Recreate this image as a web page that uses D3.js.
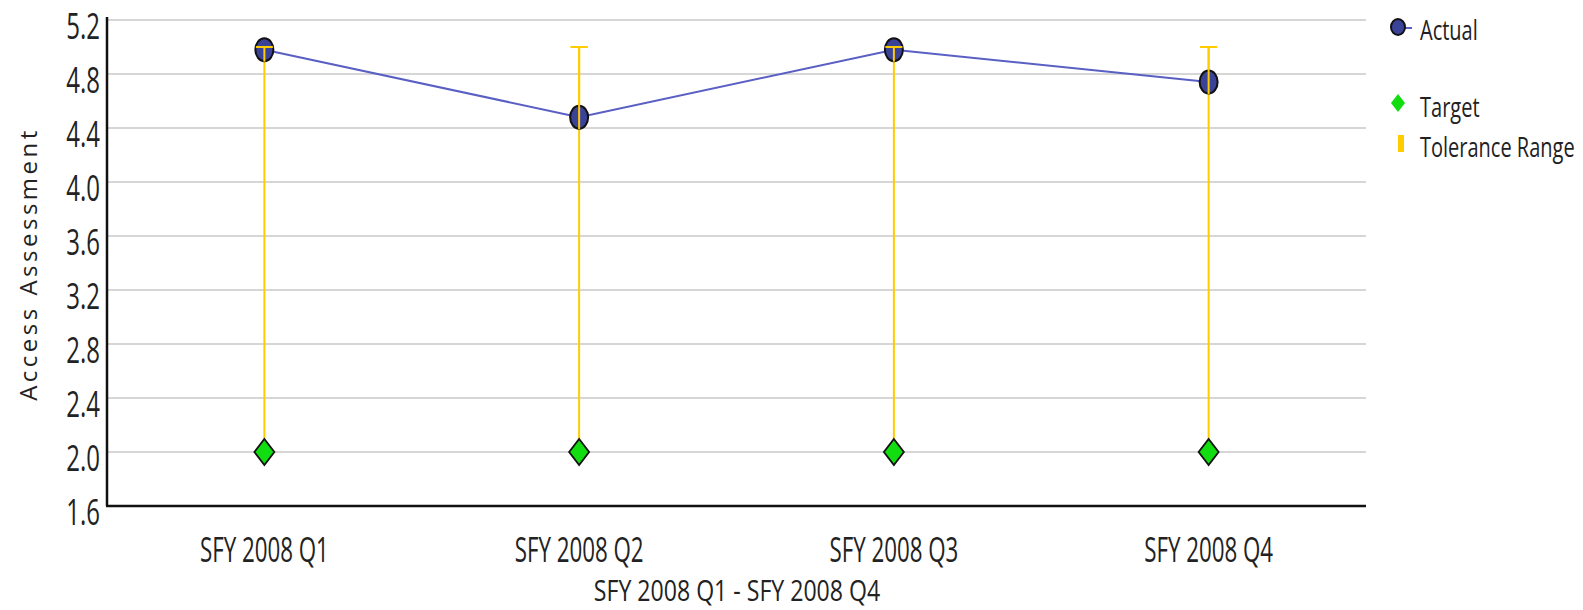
<!DOCTYPE html>
<html>
<head>
<meta charset="utf-8">
<script src="https://cdn.jsdelivr.net/npm/d3@7"></script>
<style>
  html, body { margin: 0; padding: 0; background: #fff; }
  svg { display: block; }
  text { font-family: "Open Sans", "Noto Sans", sans-serif; fill: #222; }
</style>
</head>
<body>
<svg id="chart" width="1583" height="610"></svg>
<script>
// Quarterly access assessment data
const categories = ["SFY 2008 Q1", "SFY 2008 Q2", "SFY 2008 Q3", "SFY 2008 Q4"];
const actual = [4.98, 4.48, 4.98, 4.74];
const target = [2.0, 2.0, 2.0, 2.0];
const toleranceLow = [2.0, 2.0, 2.0, 2.0];
const toleranceHigh = [5.0, 5.0, 5.0, 5.0];
const yTicks = [1.6, 2.0, 2.4, 2.8, 3.2, 3.6, 4.0, 4.4, 4.8, 5.2];
const legendLabels = ["Actual", "Target", "Tolerance Range"];
const xTitle = "SFY 2008 Q1 - SFY 2008 Q4";
const yTitle = "Access Assessment";

const svg = d3.select("#chart");
const plot = { left: 107, right: 1366, top: 20, bottom: 506 };

const x = d3.scaleBand().domain(categories).range([plot.left, plot.right]);
const cx = d => x(d) + x.bandwidth() / 2;
const y = d3.scaleLinear().domain([1.6, 5.2]).range([plot.bottom, plot.top]);

// Horizontal gridlines
svg.append("g").selectAll("line").data(yTicks.filter(t => t > 1.6)).join("line")
  .attr("x1", plot.left).attr("x2", plot.right)
  .attr("y1", d => y(d)).attr("y2", d => y(d))
  .attr("stroke", "#d6d6d6").attr("stroke-width", 2);

// Y axis with tick labels (tall, narrow numerals sitting slightly below each gridline)
const yAxis = svg.append("g").attr("transform", `translate(${plot.left},0)`)
  .call(d3.axisLeft(y).tickValues(yTicks).tickFormat(d3.format(".1f")).tickSize(0).tickPadding(8));
yAxis.select(".domain").attr("stroke", "#111").attr("stroke-width", 2.5)
  .attr("d", `M0,${plot.top - 3}V${plot.bottom}`);
yAxis.selectAll(".tick text")
  .attr("font-size", 24).attr("fill", "#222")
  .attr("font-family", "'Open Sans', sans-serif")
  .attr("x", 0).attr("dy", 0)
  .attr("transform", "translate(-7,18) scale(1,1.5)")
  .attr("text-anchor", "end");

// X axis with category labels
const xAxis = svg.append("g").attr("transform", `translate(0,${plot.bottom})`)
  .call(d3.axisBottom(x).tickSize(0).tickPadding(0));
xAxis.select(".domain").attr("stroke", "#111").attr("stroke-width", 2.5)
  .attr("d", `M${plot.left - 1},0H${plot.right}`);
xAxis.selectAll(".tick text")
  .attr("font-size", 24).attr("fill", "#222")
  .attr("font-family", "'Open Sans', sans-serif")
  .attr("y", 0).attr("dy", 0)
  .attr("transform", "translate(0,56) scale(0.93,1.45)");

// Axis titles
svg.append("text")
  .attr("transform", "translate(737,601) scale(1.05,1.35)")
  .attr("text-anchor", "middle").attr("font-size", 22).attr("fill", "#222")
  .text(xTitle);
svg.append("text")
  .attr("transform", "translate(37,264) rotate(-90)")
  .attr("text-anchor", "middle").attr("font-size", 24)
  .attr("letter-spacing", 3.5).attr("fill", "#333")
  .text(yTitle);

// Tolerance range whiskers
const tol = svg.append("g").attr("stroke", "#ffcc00").attr("stroke-width", 2);
categories.forEach((c, i) => {
  tol.append("line").attr("x1", cx(c)).attr("x2", cx(c))
    .attr("y1", y(toleranceHigh[i])).attr("y2", y(toleranceLow[i]));
  tol.append("line").attr("x1", cx(c) - 8.5).attr("x2", cx(c) + 8.5)
    .attr("y1", y(toleranceHigh[i])).attr("y2", y(toleranceHigh[i]));
});

// Actual series line
const line = d3.line().x((d, i) => cx(categories[i])).y(d => y(d));
svg.append("path").datum(actual).attr("d", line)
  .attr("fill", "none").attr("stroke", "#5a5fc4").attr("stroke-width", 2);

// Actual markers (tall ovals)
svg.append("g").selectAll("ellipse").data(actual).join("ellipse")
  .attr("cx", (d, i) => cx(categories[i])).attr("cy", d => y(d))
  .attr("rx", 9).attr("ry", 11.5)
  .attr("fill", "#3b4399").attr("stroke", "#111").attr("stroke-width", 2);

// Redraw tolerance caps on top of markers where they overlap
categories.forEach((c, i) => {
  svg.append("line").attr("x1", cx(c)).attr("x2", cx(c))
    .attr("y1", y(toleranceHigh[i])).attr("y2", y(actual[i]) + 12)
    .attr("stroke", "#ffcc00").attr("stroke-width", 2);
  svg.append("line").attr("x1", cx(c) - 8.5).attr("x2", cx(c) + 8.5)
    .attr("y1", y(toleranceHigh[i])).attr("y2", y(toleranceHigh[i]))
    .attr("stroke", "#ffcc00").attr("stroke-width", 2);
});

// Target markers (tall diamonds)
const diamond = (px, py, w, h) => `M${px},${py - h}L${px + w},${py}L${px},${py + h}L${px - w},${py}Z`;
svg.append("g").selectAll("path").data(target).join("path")
  .attr("d", (d, i) => diamond(cx(categories[i]), y(d), 10, 13))
  .attr("fill", "#11dd11").attr("stroke", "#111").attr("stroke-width", 1.8);

// Legend
const lg = svg.append("g");
lg.append("line").attr("x1", 1392).attr("x2", 1412).attr("y1", 28).attr("y2", 28)
  .attr("stroke", "#5a5fc4").attr("stroke-width", 2);
lg.append("ellipse").attr("cx", 1398).attr("cy", 27).attr("rx", 7).attr("ry", 8)
  .attr("fill", "#3b4399").attr("stroke", "#111").attr("stroke-width", 2);
lg.append("path").attr("d", diamond(1398, 103, 7, 9)).attr("fill", "#11dd11");
lg.append("rect").attr("x", 1398).attr("y", 135).attr("width", 6).attr("height", 17).attr("fill", "#ffcc00");
const legendY = [40, 117, 157];
legendLabels.forEach((t, i) => {
  lg.append("text").attr("transform", `translate(1420,${legendY[i]}) scale(1,1.4)`)
    .attr("font-size", 20).attr("fill", "#222").text(t);
});
</script>
</body>
</html>
